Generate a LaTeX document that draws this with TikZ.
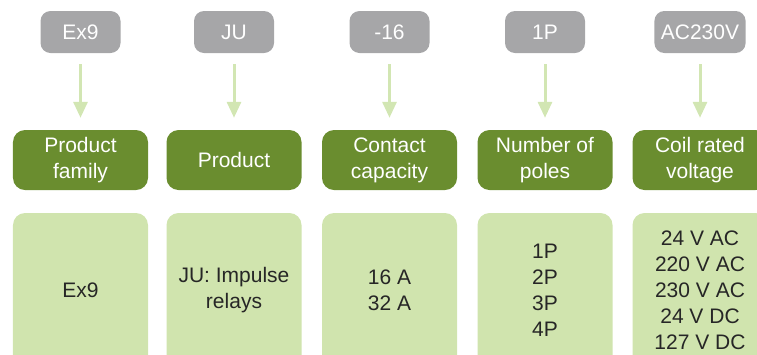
\documentclass[tikz,border=0pt]{standalone}
\usepackage{fontspec}
\setmainfont{Liberation Sans}
\usetikzlibrary{arrows.meta}
\definecolor{codegrey}{HTML}{A6A6A8}
\definecolor{darkgreen}{HTML}{6A8D2F}
\definecolor{lightgreen}{HTML}{D0E4AE}
\definecolor{arrowgreen}{HTML}{D2E6B3}
\definecolor{bodytext}{HTML}{262626}
\begin{document}
\begin{tikzpicture}[x=1bp,y=-1bp,
  codebox/.style={fill=codegrey, rounded corners=10bp, text=white, minimum width=80bp, minimum height=42bp, inner xsep=6.5bp, font=\fontsize{21bp}{26bp}\selectfont},
  labelbox/.style={fill=darkgreen, rounded corners=12bp, text=white, minimum width=135bp, minimum height=60bp, align=center, inner sep=0pt, font=\fontsize{21bp}{26bp}\selectfont},
  valuebox/.style={fill=lightgreen, rounded corners=12bp, text=bodytext, minimum width=135bp, minimum height=154bp, align=center, inner sep=0pt, font=\fontsize{21bp}{26bp}\selectfont},
  flow/.style={draw=arrowgreen, line width=3bp, -{Triangle[width=14bp,length=16bp]}, shorten <=11bp, shorten >=12bp}]
\useasboundingbox (0,0) rectangle (757,354);
\clip (0,0) rectangle (757,354);
\foreach \x/\n/\c/\l/\v in {
  80.5/a/Ex9/{Product\\family}/{Ex9},
  234/b/JU/{Product}/{JU: Impulse\\relays},
  389.5/c/-16/{Contact\\capacity}/{16 A\\32 A},
  545/d/1P/{Number of\\poles}/{1P\\2P\\3P\\4P},
  700/e/AC230V/{Coil rated\\voltage}/{24 V AC\\220 V AC\\230 V AC\\24 V DC\\127 V DC}} {
  \node[codebox] (code\n) at (\x,32) {\c};
  \node[labelbox] (label\n) at (\x,160) {\l};
  \node[valuebox] (value\n) at (\x,290) {\v};
  \draw[flow] (code\n.south) -- (label\n.north);
}
\end{tikzpicture}
\end{document}
